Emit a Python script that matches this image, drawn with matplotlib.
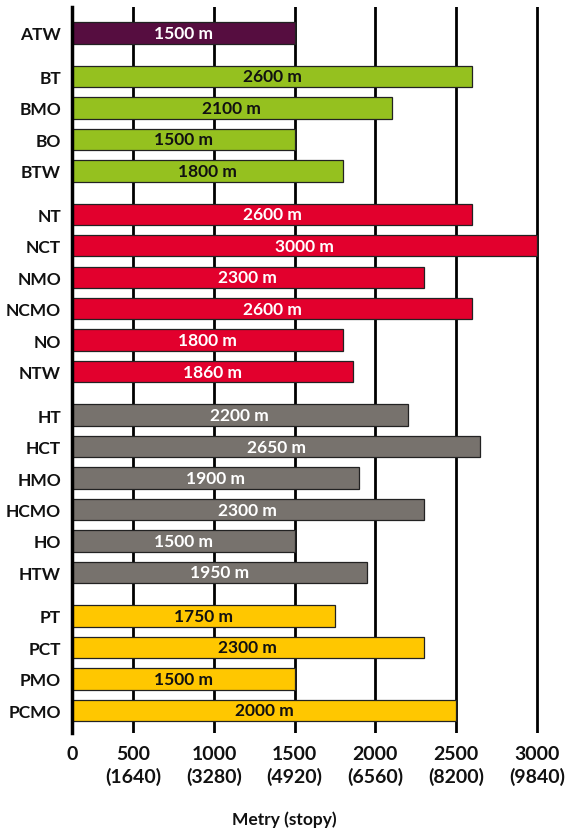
import numpy as np
import matplotlib
matplotlib.use('Agg')
from matplotlib import pyplot as plt

plt.rcParams['font.family'] = ['Lato', 'DejaVu Sans']

categories = ['ATW',
              'BT', 'BMO', 'BO', 'BTW',
              'NT', 'NCT', 'NMO', 'NCMO', 'NO', 'NTW',
              'HT', 'HCT', 'HMO', 'HCMO', 'HO', 'HTW',
              'PT', 'PCT', 'PMO', 'PCMO']
group_sizes = [1, 4, 6, 6, 4]
group_colors = ['#560d40', '#95c11f', '#e2002d', '#77726d', '#ffc700']
group_text = ['white', '#111111', 'white', 'white', '#111111']

lengths = [1500,
           2600, 2100, 1500, 1800,
           2600, 3000, 2300, 2600, 1800, 1860,
           2200, 2650, 1900, 2300, 1500, 1950,
           1750, 2300, 1500, 2500]
length_labels = ['1500 m',
                 '2600 m', '2100 m', '1500 m', '1800 m',
                 '2600 m', '3000 m', '2300 m', '2600 m', '1800 m', '1860 m',
                 '2200 m', '2650 m', '1900 m', '2300 m', '1500 m', '1950 m',
                 '1750 m', '2300 m', '1500 m', '2000 m']

tick_m = [0, 500, 1000, 1500, 2000, 2500, 3000]
tick_ft = [None, 1640, 3280, 4920, 6560, 8200, 9840]


# first 500 m are squeezed on the original axis
def fwd(v):
    v = np.asarray(v, dtype=float)
    return np.where(v < 500, v * 0.76, v - 120)


def inv(u):
    u = np.asarray(u, dtype=float)
    return np.where(u < 380, u / 0.76, u + 120)


# y positions with gaps between groups
pos = []
colors = []
tcolors = []
y = 0.0
for gi, n in enumerate(group_sizes):
    for k in range(n):
        pos.append(y)
        colors.append(group_colors[gi])
        tcolors.append(group_text[gi])
        y += 1
    y += 0.38

fig = plt.figure(figsize=(5.68, 8.29), dpi=100)
ax = fig.add_axes([72 / 568, 95 / 829, 468 / 568, 725.7 / 829])
ax.set_xscale('function', functions=(fwd, inv))

ax.barh(pos, lengths, height=0.68, color=colors, edgecolor='#222222',
        linewidth=0.9, zorder=3)
for p, v, t, c in zip(pos, lengths, length_labels, tcolors):
    ax.text(inv(fwd(v) / 2), p, t, ha='center', va='center', color=c,
            fontsize=12.5, fontweight='bold', zorder=4)

ax.set_xlim(0, 3020)
ax.set_ylim(pos[-1] + 0.72, -0.816)

ax.set_xticks(tick_m)
ax.set_xticklabels([str(m) if f is None else '%d\n(%d)' % (m, f)
                    for m, f in zip(tick_m, tick_ft)],
                   fontsize=14, fontweight='bold', linespacing=1.3)
ax.set_yticks(pos)
ax.set_yticklabels(categories, fontsize=12.5, fontweight='bold')
ax.tick_params(axis='x', length=0, pad=9, colors='#111111')
ax.tick_params(axis='y', length=0, pad=8, colors='#111111')

ax.xaxis.grid(True, color='black', linewidth=2)
ax.set_axisbelow(True)
for s in ['top', 'right', 'bottom']:
    ax.spines[s].set_visible(False)
ax.spines['left'].set_linewidth(2.5)
ax.spines['left'].set_zorder(5)

fig.text(0.5, 1 - 825 / 829, 'Metry (stopy)', ha='center', va='baseline',
         fontsize=12.5, fontweight='bold', color='#111111')

fig.savefig('out.png', dpi=100)
